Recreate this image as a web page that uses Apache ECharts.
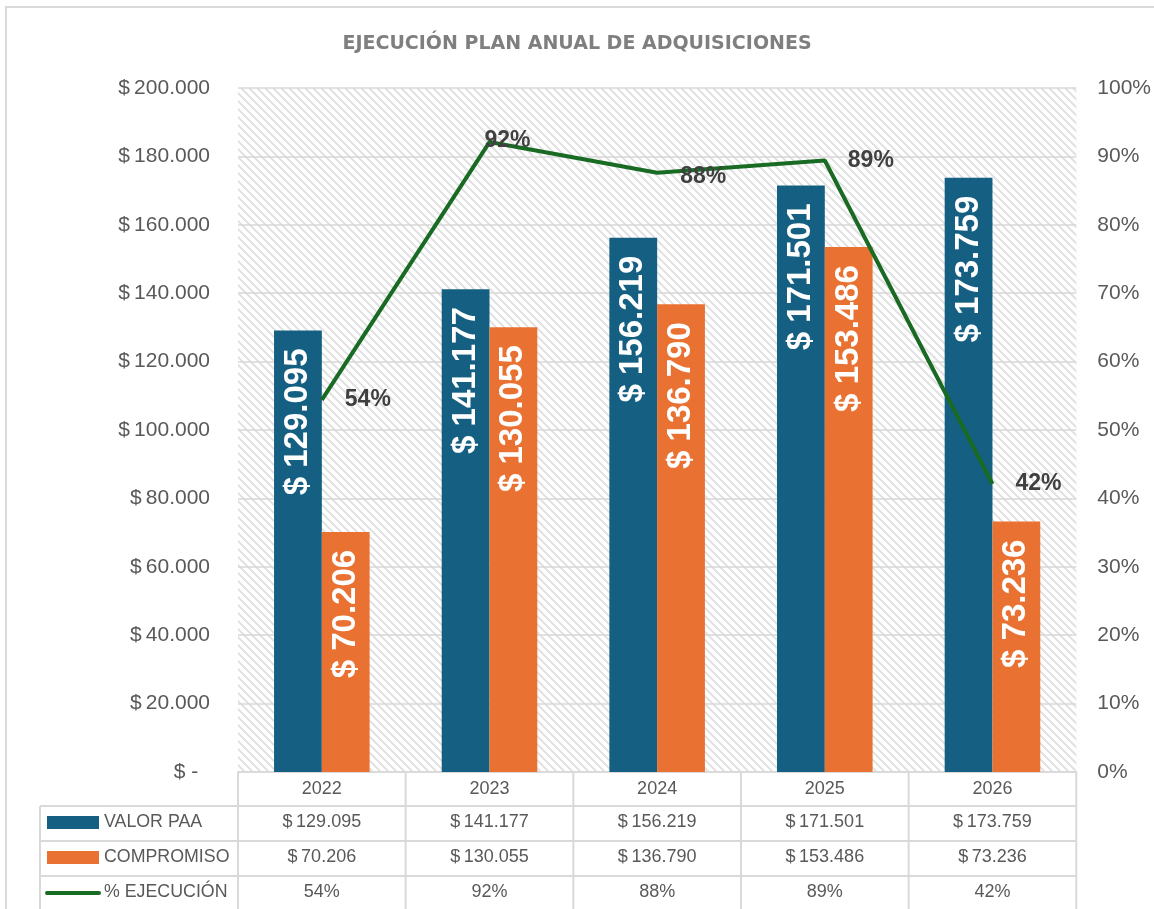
<!DOCTYPE html>
<html>
<head>
<meta charset="utf-8">
<script src="https://cdn.jsdelivr.net/npm/echarts@6/dist/echarts.min.js"></script>
<style>html,body{margin:0;padding:0;background:#fff}#c{width:1154px;height:909px}</style>
</head>
<body>
<div id="c"></div>
<script>
const categories = ['2022', '2023', '2024', '2025', '2026'];
const valorPaa = [129095, 141177, 156219, 171501, 173759];
const compromiso = [70206, 130055, 136790, 153486, 73236];
const ejecucion = [0.544, 0.921, 0.876, 0.894, 0.421];
const seriesNames = ['VALOR PAA', 'COMPROMISO', '% EJECUCIÓN'];

const BLUE = '#156082', ORANGE = '#E97132', GREEN = '#196B24';
const TXT = '#595959', GRIDC = '#d9d9d9';
const FONT = '"Liberation Sans", Arial, sans-serif';

function thou(v) { return String(v).replace(/\B(?=(\d{3})+(?!\d))/g, '.'); }
function money(v) { return v === 0 ? '$ -  ' : '$\u2009' + thou(v); }
function pct(v) { return Math.round(v * 100) + '%'; }

// hatch pattern
const pc = document.createElement('canvas');
pc.width = 8; pc.height = 8;
const px = pc.getContext('2d');
px.fillStyle = '#ffffff'; px.fillRect(0, 0, 8, 8);
px.fillStyle = '#e3e3e3';
for (let y = 0; y < 8; y++) for (let x = 0; x < 8; x++) {
  if ((((x - y) % 8) + 8) % 8 < 3) px.fillRect(x, y, 1, 1);
}

const chart = echarts.init(document.getElementById('c'), null, { renderer: 'canvas' });

const option = {
  animation: false,
  backgroundColor: '#fff',
  textStyle: { fontFamily: FONT },
  title: {
    text: 'EJECUCIÓN PLAN ANUAL DE ADQUISICIONES',
    left: 'center', top: 30,
    textStyle: { fontFamily: '"DejaVu Sans", sans-serif', fontWeight: 'bold', fontSize: 19, color: '#7f7f7f' }
  },
  grid: {
    left: 238, right: 77, top: 88, bottom: 137,
    show: true, borderWidth: 0,
    backgroundColor: { image: pc, repeat: 'repeat' }
  },
  xAxis: {
    type: 'category', data: categories,
    axisLine: { lineStyle: { color: GRIDC, width: 2 } },
    axisTick: { show: false },
    axisLabel: { fontSize: 18, color: TXT, margin: 8, fontFamily: FONT }
  },
  yAxis: [{
    type: 'value', min: 0, max: 200000, interval: 20000,
    axisLine: { show: false }, axisTick: { show: false },
    axisLabel: { fontSize: 21, color: TXT, margin: 28, formatter: money, fontFamily: FONT },
    splitLine: { lineStyle: { color: GRIDC, width: 1.5 } }
  }, {
    type: 'value', min: 0, max: 1, interval: 0.1,
    axisLine: { show: false }, axisTick: { show: false },
    axisLabel: { fontSize: 21, color: TXT, margin: 21, formatter: pct, fontFamily: FONT },
    splitLine: { show: false }
  }],
  series: [{
    name: seriesNames[0], type: 'bar', data: valorPaa,
    barGap: '0%', barCategoryGap: '43%',
    itemStyle: { color: BLUE },
    label: {
      show: true, position: 'insideTop', rotate: 90, align: 'right', verticalAlign: 'middle',
      distance: 18, color: '#fff', fontWeight: 'bold', fontSize: 33, fontFamily: FONT,
      formatter: p => '$ ' + thou(p.value)
    }
  }, {
    name: seriesNames[1], type: 'bar', data: compromiso,
    itemStyle: { color: ORANGE },
    label: {
      show: true, position: 'insideTop', rotate: 90, align: 'right', verticalAlign: 'middle',
      distance: 18, color: '#fff', fontWeight: 'bold', fontSize: 33, fontFamily: FONT,
      formatter: p => '$ ' + thou(p.value)
    }
  }, {
    name: seriesNames[2], type: 'line', yAxisIndex: 1,
    data: ejecucion.map((v, i) => i === 1
      ? { value: v, label: { position: 'inside', offset: [18, -1] } }
      : (i === 2 ? { value: v, label: { offset: [0, 4] } } : v)),
    showSymbol: true, symbol: 'circle', symbolSize: 0,
    lineStyle: { color: GREEN, width: 4 },
    itemStyle: { color: GREEN },
    label: {
      show: true, position: 'right', distance: 23,
      color: '#404040', fontWeight: 'bold', fontSize: 23, fontFamily: FONT,
      formatter: p => pct(p.value)
    },
    z: 5
  }]
};
chart.setOption(option);

// data table below the plot
const rowY = [822, 857, 892];
const lines = [806, 841, 876];
const g = [];
const xs = categories.map(c => chart.convertToPixel({ xAxisIndex: 0 }, c));
const step = xs.length > 1 ? xs[1] - xs[0] : 168;
const x0 = xs[0] - step / 2, xEnd = xs[xs.length - 1] + step / 2;
const lineStyle = { stroke: GRIDC, lineWidth: 2 };

// outer chart border
g.push({ type: 'polyline', shape: { points: [[6, 909], [6, 7], [1160, 7]] }, style: { stroke: GRIDC, lineWidth: 2, fill: null }, silent: true });

lines.forEach(y => g.push({ type: 'line', shape: { x1: 40, y1: y, x2: xEnd, y2: y }, style: lineStyle, silent: true }));
g.push({ type: 'line', shape: { x1: 40, y1: lines[0], x2: 40, y2: 909 }, style: lineStyle, silent: true });
for (let i = 0; i <= xs.length; i++) {
  const x = x0 + i * step;
  g.push({ type: 'line', shape: { x1: x, y1: 772, x2: x, y2: 909 }, style: lineStyle, silent: true });
}
const rows = [valorPaa.map(money), compromiso.map(money), ejecucion.map(pct)];
rows.forEach((r, ri) => r.forEach((t, ci) => {
  g.push({ type: 'text', x: xs[ci], y: rowY[ri], style: { text: t, fill: TXT, font: '18px ' + FONT, textAlign: 'center', textVerticalAlign: 'middle' }, silent: true });
}));
// legend keys
g.push({ type: 'rect', shape: { x: 47, y: 816, width: 52, height: 13 }, style: { fill: BLUE }, silent: true });
g.push({ type: 'rect', shape: { x: 47, y: 851, width: 52, height: 13 }, style: { fill: ORANGE }, silent: true });
g.push({ type: 'line', shape: { x1: 47, y1: 893, x2: 99, y2: 893 }, style: { stroke: GREEN, lineWidth: 4, lineCap: 'round' }, silent: true });
seriesNames.forEach((n, i) => {
  g.push({ type: 'text', x: 104, y: rowY[i], style: { text: n, fill: TXT, font: '17.8px ' + FONT, textAlign: 'left', textVerticalAlign: 'middle' }, silent: true });
});
chart.setOption({ graphic: g });
</script>
</body>
</html>
